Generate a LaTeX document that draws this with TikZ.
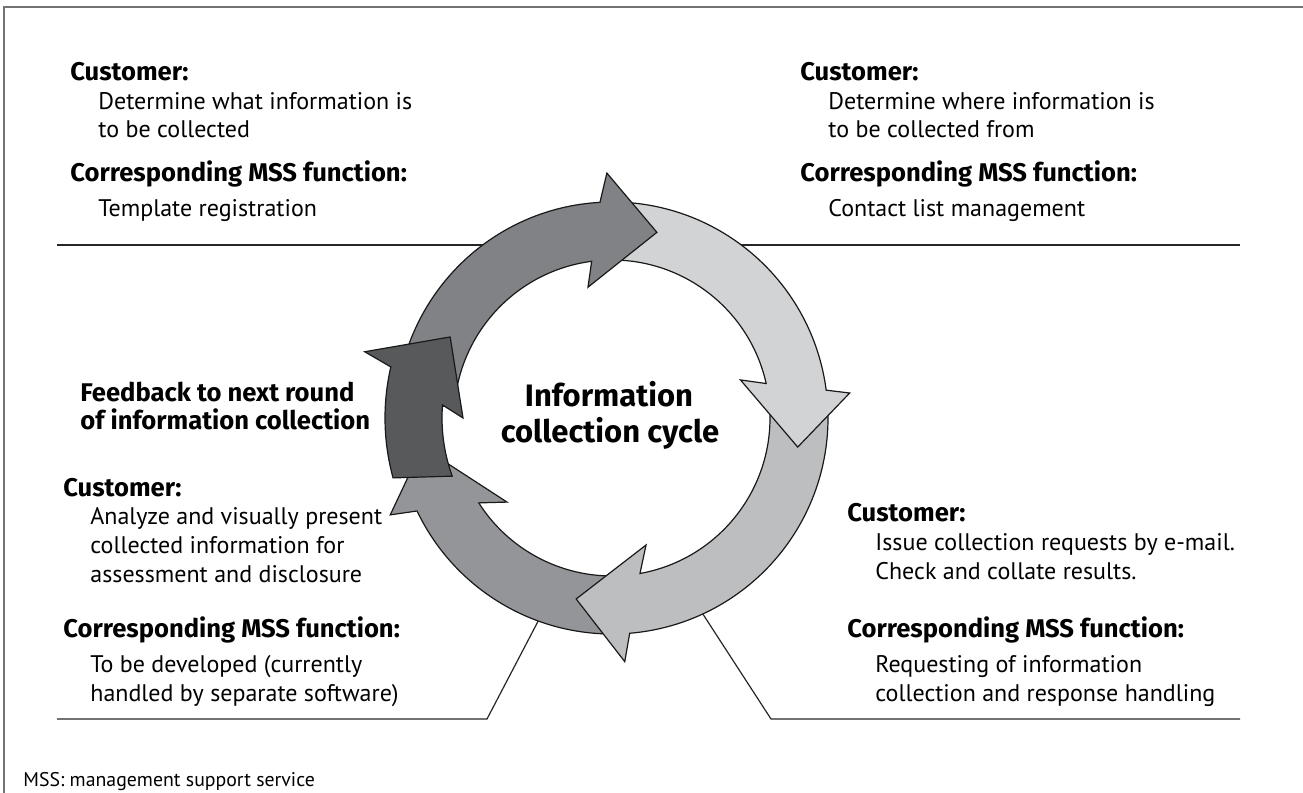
\documentclass[tikz,border=0pt]{standalone}
\usepackage{fontspec}
\setmainfont{PT Sans}
\newfontfamily\hdfont{Fira Sans}
\definecolor{ringA}{HTML}{808285}
\definecolor{ringB}{HTML}{D1D3D4}
\definecolor{ringC}{HTML}{BCBEC0}
\definecolor{ringD}{HTML}{939598}
\definecolor{ringE}{HTML}{58595B}
\tikzset{
  hdtext/.style={font=\hdfont\fontsize{12.8}{15}\selectfont\bfseries, anchor=base west, inner sep=0pt},
  bodytext/.style={font=\fontsize{12}{15}\selectfont, anchor=base west, inner sep=0pt},
  callout/.style={draw=black!85, line width=0.6pt},
  seg/.style={draw=black!90, line width=0.6pt, line join=miter},
}
\begin{document}
\begin{tikzpicture}[x=0.5pt,y=0.5pt]
			\useasboundingbox (0,0) rectangle (1303,793);
			\draw[black!55, line width=0.8pt] (4,0) -- (4,786) -- (1303,786);
			% callout lines
			\coordinate (tlA) at (57,548); \coordinate (tlB) at (495,548);
			\coordinate (trA) at (730,548); \coordinate (trB) at (1240,548);
			\coordinate (blA) at (57,74); \coordinate (blB) at (487,74); \coordinate (blC) at (545,185);
			\coordinate (brA) at (1240,74); \coordinate (brB) at (771,74); \coordinate (brC) at (697,188);
			\draw[callout] (tlA) -- (tlB);
			\draw[callout] (trA) -- (trB);
			\draw[callout] (blA) -- (blB) -- (blC);
			\draw[callout] (brA) -- (brB) -- (brC);
			% cycle
			\begin{scope}[shift={(612,375)}]
				\filldraw[seg, fill=ringD] (270:216) arc[start angle=270, end angle=205.5, radius=216] -- (203.6:242) -- (188.7:192) -- (218.7:134.5) -- (212.5:158) arc[start angle=212.5, end angle=270, radius=158] -- cycle;
				\filldraw[seg, fill=ringC] (5:216) arc[start angle=5, end angle=-85.3, radius=216] -- (-87:244) -- (-101.2:184.5) -- (-75:131.5) -- (-79.8:158) arc[start angle=-79.8, end angle=5, radius=158] -- cycle;
				\filldraw[seg, fill=ringB] (90:216) arc[start angle=90, end angle=7.4, radius=216] -- (6:239) -- (-8.9:188) -- (16.5:134) -- (12.6:158) arc[start angle=12.6, end angle=90, radius=158] -- cycle;
				\filldraw[seg, fill=ringA] (176:216) arc[start angle=176, end angle=93.2, radius=216] -- (91.2:245) -- (76.4:191) -- (100.4:133) -- (97.4:158) arc[start angle=97.4, end angle=176, radius=158] -- cycle;
				\filldraw[seg, fill=ringE] (195.3:227) arc[start angle=195.3, end angle=167, radius=227] -- (165:256) -- (153.4:181) -- (180:149) -- (175.6:170) arc[start angle=175.6, end angle=200, radius=170] -- cycle;
			\end{scope}
			\node[font=\hdfont\fontsize{15.5}{18}\selectfont\bfseries, anchor=base, inner sep=0pt] (title1) at (609,386) {Information};
			\node[font=\hdfont\fontsize{15.5}{18}\selectfont\bfseries, anchor=base, inner sep=0pt] (title2) at (610,350) {collection cycle};
			% top left
			\node[hdtext] (tlCust) at (70,712) {Customer:};
			\node[bodytext] (tlTxt1) at (98,683) {Determine what information is};
			\node[bodytext] (tlTxt2) at (98,655) {to be collected};
			\node[hdtext] (tlFunc) at (70,611) {Corresponding MSS function:};
			\node[bodytext] (tlTxt3) at (98,576) {Template registration};
			% top right
			\node[hdtext] (trCust) at (800,712) {Customer:};
			\node[bodytext] (trTxt1) at (828,683) {Determine where information is};
			\node[bodytext] (trTxt2) at (828,655) {to be collected from};
			\node[hdtext] (trFunc) at (800,611) {Corresponding MSS function:};
			\node[bodytext] (trTxt3) at (828,576) {Contact list management};
			% left
			\node[hdtext] (fbTxt1) at (80,391) {Feedback to next round};
			\node[hdtext] (fbTxt2) at (80,363) {of information collection};
			\node[hdtext] (blCust) at (63,296) {Customer:};
			\node[bodytext] (blTxt1) at (90,268) {Analyze and visually present};
			\node[bodytext] (blTxt2) at (90,239) {collected information for};
			\node[bodytext] (blTxt3) at (90,210) {assessment and disclosure};
			\node[hdtext] (blFunc) at (63,155) {Corresponding MSS function:};
			\node[bodytext] (blTxt4) at (90,120) {To be developed (currently};
			\node[bodytext] (blTxt5) at (90,91) {handled by separate software)};
			% bottom right
			\node[hdtext] (brCust) at (847,271) {Customer:};
			\node[bodytext] (brTxt1) at (875,242) {Issue collection requests by e-mail.};
			\node[bodytext] (brTxt2) at (875,213) {Check and collate results.};
			\node[hdtext] (brFunc) at (847,155) {Corresponding MSS function:};
			\node[bodytext] (brTxt3) at (875,120) {Requesting of information};
			\node[bodytext] (brTxt4) at (875,91) {collection and response handling};
			\node[font=\fontsize{9.9}{12}\selectfont, anchor=base west, inner sep=0pt] (note) at (23,6) {MSS: management support service};
		\end{tikzpicture}
\end{document}
